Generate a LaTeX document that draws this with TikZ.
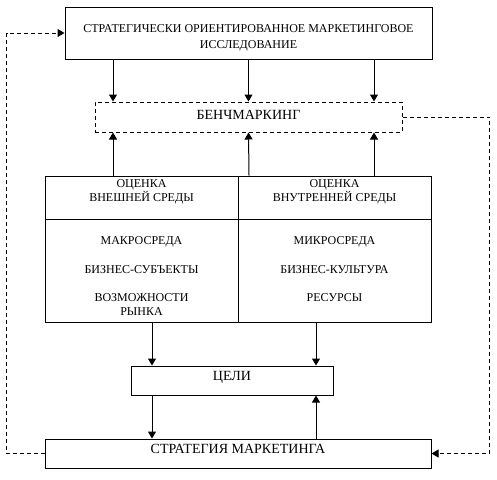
\documentclass[tikz,border=0pt]{standalone}
\usepackage{fontspec}
\setmainfont{Liberation Serif}
\usetikzlibrary{arrows.meta,positioning}

\begin{document}
\begin{tikzpicture}[x=1pt,y=-1pt,
    font=\fontsize{12}{13.5}\selectfont,
    box/.style={draw,line width=1pt,inner sep=0pt,align=center},
    big/.style={font=\fontsize{14}{16}\selectfont},
    txt/.style={inner sep=0pt,align=center},
    arr/.style={line width=1pt,-{Triangle[width=8pt,length=7pt]}},
    fb/.style={line width=1pt,dash pattern=on 4pt off 3pt}]
  \useasboundingbox (0,0) rectangle (497,479);
  % top and benchmarking
  \node[box,minimum width=367,minimum height=52,text height=34pt] (research) at (248.5,33)
    {СТРАТЕГИЧЕСКИ ОРИЕНТИРОВАННОЕ МАРКЕТИНГОВОЕ\\[2.5pt]ИССЛЕДОВАНИЕ};
  \node[box,big,dash pattern=on 4pt off 3pt,minimum width=307,minimum height=30,
        text depth=5pt] (bench) at (248.5,117) {БЕНЧМАРКИНГ};
  % assessment table
  \node[box,minimum width=193,minimum height=43] (extHead) at (141.5,197.5) {};
  \node[box,minimum width=193,minimum height=43] (intHead) at (334.5,197.5) {};
  \node[box,minimum width=193,minimum height=103] (extBody) at (141.5,270.5) {};
  \node[box,minimum width=193,minimum height=103] (intBody) at (334.5,270.5) {};
  \node[txt,below=4pt of extHead.north] (extTitle) {ОЦЕНКА\\ВНЕШНЕЙ СРЕДЫ};
  \node[txt,below=4pt of intHead.north] (intTitle) {ОЦЕНКА\\ВНУТРЕННЕЙ СРЕДЫ};
  \node[txt,below=18pt of extBody.north] (extList)
    {МАКРОСРЕДА\\[15.5pt]БИЗНЕС-СУБЪЕКТЫ\\[14.5pt]ВОЗМОЖНОСТИ\\РЫНКА};
  \node[txt,below=18pt of intBody.north] (intList)
    {МИКРОСРЕДА\\[15.5pt]БИЗНЕС-КУЛЬТУРА\\[14.5pt]РЕСУРСЫ};
  % goals and strategy
  \node[box,big,minimum width=202,minimum height=29,text depth=10pt] (goals) at (232,380.5) {ЦЕЛИ};
  \node[box,big,minimum width=386,minimum height=29,text depth=10pt] (strategy) at (238,453.5)
    {СТРАТЕГИЯ МАРКЕТИНГА};
  % connectors
  \draw[arr] ([xshift=-135.5]research.south) -- ([xshift=-135.5]bench.north);
  \draw[arr] (research.south) -- (bench.north);
  \draw[arr] ([xshift=125.5]research.south) -- ([xshift=125.5]bench.north);
  \draw[arr] ([xshift=-28.5]extHead.north) -- ([xshift=-135.5]bench.south);
  \draw[arr] ([xshift=10.5]extHead.north east) -- (bench.south);
  \draw[arr] ([xshift=39.5]intHead.north) -- ([xshift=125.5]bench.south);
  \draw[arr] ([xshift=10.5]extBody.south) -- ([xshift=-80]goals.north);
  \draw[arr] ([xshift=-18.5]intBody.south) -- ([xshift=84]goals.north);
  \draw[arr] ([xshift=-80]goals.south) -- ([xshift=-86]strategy.north);
  \draw[arr] ([xshift=78]strategy.north) -- ([xshift=84]goals.south);
  % feedback loops
  \draw[fb,-{Triangle[width=8pt,length=7pt]}] (strategy.west) -- ++(-38,0) |- (research.west);
  \draw[fb,-{Triangle[width=8pt,length=7pt]}] (bench.east) -- ++(87,0) |- (strategy.east);
\end{tikzpicture}
\end{document}
